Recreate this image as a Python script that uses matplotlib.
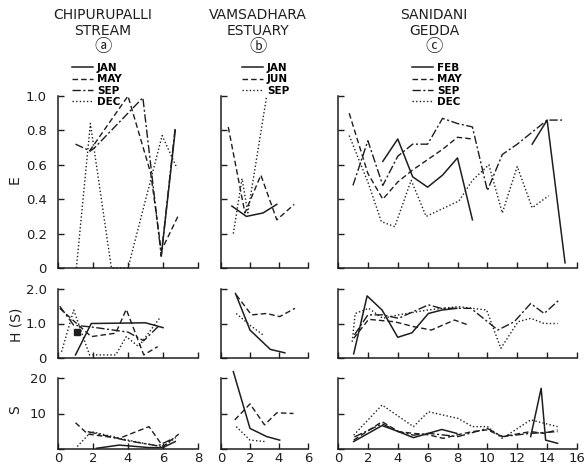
import numpy as np
import matplotlib
matplotlib.use("Agg")
import matplotlib.pyplot as plt

nan = np.nan

# ---------------- data ----------------
# (a) Chipurupalli stream
a_months = ["JAN", "MAY", "SEP", "DEC"]
a_E_jan_x = [5.9, 6.7];                          a_E_jan = [0.07, 0.80]
a_E_may_x = [1.8, 4.0, 5.3, 5.9, 6.9];           a_E_may = [0.68, 1.00, 0.55, 0.10, 0.31]
a_E_sep_x = [1.0, 1.85, 2.1, 4.85, 5.4, 5.9, 6.7]; a_E_sep = [0.72, 0.68, 0.70, 0.99, 0.51, 0.07, 0.82]
a_E_dec_x = [1.05, 1.85, 3.05, 4.0, 5.95, 6.8];  a_E_dec = [0.0, 0.84, 0.0, 0.0, 0.77, 0.58]

a_H_jan_x = [1.0, 1.9, 5.0, 6.0];                a_H_jan = [0.09, 1.00, 1.02, 0.88]
a_H_may_x = [0.1, 1.9, 3.3, 3.9, 4.9, 5.7];      a_H_may = [1.44, 0.62, 0.72, 1.41, 0.09, 0.33]
a_H_sep_x = [0.1, 0.9, 1.9, 4.0, 4.9, 5.8];      a_H_sep = [1.50, 0.95, 0.90, 0.75, 0.50, 0.95]
a_H_dec_x = [0.2, 0.9, 1.8, 3.3, 3.9, 4.6, 5.8]; a_H_dec = [0.18, 1.39, 0.09, 0.09, 0.62, 0.33, 1.15]
a_H_blob_x = [1.1];                              a_H_blob = [0.75]

a_S_jan_x = [2.2, 3.5, 5.2, 6.0, 6.7];           a_S_jan = [0.2, 1.1, 0.4, 0.4, 2.1]
a_S_may_x = [1.0, 1.7, 3.5, 5.2, 6.0, 6.9];      a_S_may = [7.4, 4.2, 3.0, 6.3, 0.7, 4.2]
a_S_sep_x = [1.7, 4.0, 5.7, 6.6];                a_S_sep = [4.9, 2.3, 0.9, 3.0]
a_S_dec_x = [1.1, 1.9, 4.0, 5.0, 6.0, 6.8];      a_S_dec = [0.7, 4.9, 2.5, 1.5, 0.6, 3.5]

# (b) Vamsadhara estuary
b_months = ["JAN", "JUN", "SEP"]
b_E_jan_x = [0.75, 1.75, 2.9, 3.85];             b_E_jan = [0.36, 0.30, 0.32, 0.37]
b_E_jun_x = [0.5, 1.65, 2.75, 3.85, 5.05];       b_E_jun = [0.82, 0.32, 0.54, 0.28, 0.37]
b_E_sep_x = [0.85, 1.45, 1.85, 3.15];            b_E_sep = [0.20, 0.52, 0.32, 1.00]

b_H_jan_x = [1.0, 2.0, 3.4, 4.4];                b_H_jan = [1.87, 0.81, 0.25, 0.15]
b_H_jun_x = [1.05, 2.1, 3.15, 4.05, 5.1];        b_H_jun = [1.83, 1.25, 1.29, 1.20, 1.44]
b_H_sep_x = [1.05, 2.0, 2.9];                    b_H_sep = [1.29, 0.95, 0.67]

b_S_jan_x = [0.85, 2.0, 3.15, 4.05];             b_S_jan = [21.8, 5.8, 3.5, 2.5]
b_S_jun_x = [0.95, 2.0, 3.0, 3.85, 5.0];         b_S_jun = [8.2, 12.7, 6.8, 10.2, 10.0]
b_S_sep_x = [1.05, 2.0, 3.0];                    b_S_sep = [6.3, 2.5, 2.1]

# (c) Sanidani gedda
c_months = ["FEB", "MAY", "SEP", "DEC"]
c_E_feb_x = [3, 4, 5, 6, 7, 8, 9, nan, 13, 14, 15.2]
c_E_feb   = [0.62, 0.75, 0.53, 0.47, 0.54, 0.64, 0.28, nan, 0.72, 0.86, 0.03]
c_E_may_x = [0.75, 2, 3, 4, 5, 6, 7, 8, 9]
c_E_may   = [0.90, 0.55, 0.40, 0.50, 0.57, 0.63, 0.69, 0.76, 0.75]
c_E_sep_x = [1, 2, 3, 4, 5, 6, 7, 8, 9, 10, 11, 12, 13, 14, 15]
c_E_sep   = [0.48, 0.74, 0.48, 0.65, 0.72, 0.72, 0.87, 0.84, 0.82, 0.45, 0.66, 0.72, 0.79, 0.86, 0.86]
c_E_dec_x = [0.75, 2, 2.9, 3.8, 4.9, 5.9, 8.1, 9, 10.1, 11, 12, 13, 14.1]
c_E_dec   = [0.77, 0.50, 0.27, 0.24, 0.51, 0.30, 0.39, 0.51, 0.60, 0.32, 0.59, 0.35, 0.42]

c_H_feb_x = [1.05, 1.95, 2.95, 4.0, 4.95, 6.05, 6.95, 7.95]
c_H_feb   = [0.12, 1.80, 1.39, 0.60, 0.73, 1.29, 1.39, 1.44]
c_H_may_x = [1.05, 2.05, 3.8, 5.05, 6.25, 7.8, 8.7]
c_H_may   = [0.57, 1.12, 1.05, 0.91, 0.81, 1.10, 0.96]
c_H_sep_x = [1.1, 2.0, 3.0, 4.05, 6.05, 6.9, 8.0, 8.9, 10.7, 11.8, 12.9, 13.8, 14.8]
c_H_sep   = [0.67, 1.25, 1.25, 1.15, 1.54, 1.44, 1.44, 1.44, 0.81, 1.05, 1.58, 1.29, 1.68]
c_H_dec_x = [0.95, 1.15, 2.05, 3.0, 4.05, 6.0, 8.05, 9.95, 10.9, 12.05, 12.9, 13.8, 14.7]
c_H_dec   = [0.47, 1.29, 1.44, 1.15, 1.25, 1.39, 1.49, 1.39, 0.28, 1.05, 1.15, 1.00, 1.00]

c_S_feb_x = [1.05, 2.95, 4.05, 5.05, 6.05, 6.95, 7.95, nan, 12.9, 13.6, 13.9, 14.7]
c_S_feb   = [2.1, 6.6, 4.9, 3.2, 4.4, 5.5, 4.4, nan, 3.5, 17.1, 2.5, 1.6]
c_S_may_x = [1.05, 2.95, 4.05, 5.05, 6.05, 7.05, 8.0, 9.0, 10.0, 11.0, 12.9, 13.8, 14.7]
c_S_may   = [2.5, 7.7, 4.9, 4.4, 4.0, 3.0, 4.0, 4.9, 5.4, 3.5, 4.9, 4.4, 5.4]
c_S_sep_x = [1.1, 2.95, 4.05, 5.05, 6.05, 8.05, 10.0, 11.0, 12.9, 14.7]
c_S_sep   = [3.4, 7.1, 4.9, 3.9, 4.4, 3.5, 5.8, 3.5, 4.4, 4.9]
c_S_dec_x = [1.05, 2.95, 5.05, 6.05, 8.05, 9.0, 10.0, 11.0, 12.9, 14.7]
c_S_dec   = [3.9, 12.4, 6.3, 10.5, 8.6, 6.3, 6.3, 3.0, 8.2, 6.3]

titles = ["CHIPURUPALLI\nSTREAM", "VAMSADHARA\nESTUARY", "SANIDANI\nGEDDA"]
panel_marks = ["ⓐ", "ⓑ", "ⓒ"]
x_max = [8, 6, 16]
E_ticks = [0, 0.2, 0.4, 0.6, 0.8, 1.0]
E_ticklabels = ["0", "0.2", "0.4", "0.6", "0.8", "1.0"]
H_ticks = [0, 1.0, 2.0]
H_ticklabels = ["0", "1.0", "2.0"]
S_ticks = [0, 10, 20]
S_ticklabels = ["", "10", "20"]

# ---------------- figure ----------------
plt.rcParams["font.family"] = ["DejaVu Sans", "Noto Sans CJK JP"]
W, Hpx = 584, 468
fig = plt.figure(figsize=(W / 100, Hpx / 100), dpi=100)
fig.patch.set_facecolor("white")

INK = "#1e1e1e"
styles = {
    "solid": dict(linestyle="-", linewidth=1.1),
    "dash": dict(linestyle=(0, (4, 2.2)), linewidth=1.0),
    "dashdot": dict(linestyle=(0, (6, 1.8, 1.5, 1.8)), linewidth=1.0),
    "dot": dict(linestyle=(0, (1, 1.6)), linewidth=1.0),
}

cols_px = [(58, 198), (221, 308), (338, 577)]
rows_px = [(96, 268), (289, 358), (378, 449)]


def make_ax(ci, ri):
    l, r = cols_px[ci]
    t, b = rows_px[ri]
    ax = fig.add_axes([l / W, 1 - b / Hpx, (r - l) / W, (b - t) / Hpx])
    for s in ("top", "right"):
        ax.spines[s].set_visible(False)
    for s in ("left", "bottom"):
        ax.spines[s].set_color(INK)
        ax.spines[s].set_linewidth(1.1)
    ax.tick_params(direction="in", length=4, width=1.0, colors=INK,
                   labelsize=9.5)
    ax.tick_params(axis="y", pad=8)
    ax.set_xlim(0, x_max[ci])
    ax.set_xticks(np.arange(0, x_max[ci] + 1, 2))
    return ax


def draw(ax, x, y, st):
    ax.plot(x, y, color=INK, clip_on=False, **styles[st])


panels = {
    0: [
        [(a_E_jan_x, a_E_jan, "solid"), (a_E_may_x, a_E_may, "dash"),
         (a_E_sep_x, a_E_sep, "dashdot"), (a_E_dec_x, a_E_dec, "dot")],
        [(a_H_jan_x, a_H_jan, "solid"), (a_H_may_x, a_H_may, "dash"),
         (a_H_sep_x, a_H_sep, "dashdot"), (a_H_dec_x, a_H_dec, "dot")],
        [(a_S_jan_x, a_S_jan, "solid"), (a_S_may_x, a_S_may, "dash"),
         (a_S_sep_x, a_S_sep, "dashdot"), (a_S_dec_x, a_S_dec, "dot")],
    ],
    1: [
        [(b_E_jan_x, b_E_jan, "solid"), (b_E_jun_x, b_E_jun, "dash"),
         (b_E_sep_x, b_E_sep, "dot")],
        [(b_H_jan_x, b_H_jan, "solid"), (b_H_jun_x, b_H_jun, "dash"),
         (b_H_sep_x, b_H_sep, "dot")],
        [(b_S_jan_x, b_S_jan, "solid"), (b_S_jun_x, b_S_jun, "dash"),
         (b_S_sep_x, b_S_sep, "dot")],
    ],
    2: [
        [(c_E_feb_x, c_E_feb, "solid"), (c_E_may_x, c_E_may, "dash"),
         (c_E_sep_x, c_E_sep, "dashdot"), (c_E_dec_x, c_E_dec, "dot")],
        [(c_H_feb_x, c_H_feb, "solid"), (c_H_may_x, c_H_may, "dash"),
         (c_H_sep_x, c_H_sep, "dashdot"), (c_H_dec_x, c_H_dec, "dot")],
        [(c_S_feb_x, c_S_feb, "solid"), (c_S_may_x, c_S_may, "dash"),
         (c_S_sep_x, c_S_sep, "dashdot"), (c_S_dec_x, c_S_dec, "dot")],
    ],
}
month_lists = [a_months, b_months, c_months]
legend_anchor_px = [(72, 63), (242, 63), (412, 63)]
title_center_px = [103, 258, 434]

for ci in range(3):
    axes_col = []
    for ri in range(3):
        ax = make_ax(ci, ri)
        for x, y, st in panels[ci][ri]:
            draw(ax, x, y, st)
        if ri == 0:
            ax.set_ylim(0, 1.0)
            ax.set_yticks(E_ticks)
            ax.set_yticklabels(E_ticklabels if ci == 0 else [])
        elif ri == 1:
            ax.set_ylim(0, 2.0)
            ax.set_yticks(H_ticks)
            ax.set_yticklabels(H_ticklabels if ci == 0 else [])
        else:
            ax.set_ylim(0, 20)
            ax.set_yticks(S_ticks)
            ax.set_yticklabels(S_ticklabels if ci == 0 else [])
        if ri < 2:
            ax.set_xticklabels([])
        else:
            ax.tick_params(axis="x", labelsize=9.5, pad=2)
        axes_col.append(ax)

    if ci == 0:
        axes_col[1].plot(a_H_blob_x, a_H_blob, marker="s", markersize=5,
                         color=INK, linestyle="none")

    # legend from the top-row lines
    handles = axes_col[0].get_lines()
    lx, ly = legend_anchor_px[ci]
    fig.legend(handles, month_lists[ci], loc="upper left",
               bbox_to_anchor=(lx / W, 1 - ly / Hpx), frameon=False,
               fontsize=7.5, handlelength=2.0, handletextpad=0.4,
               labelspacing=0.12, borderpad=0, borderaxespad=0,
               prop=dict(size=7.5, weight="semibold"))

    tx = title_center_px[ci] / W
    fig.text(tx, 1 - 8 / Hpx, titles[ci], ha="center", va="top",
             fontsize=10, color=INK, linespacing=1.15)
    fig.text(tx, 1 - 38 / Hpx, panel_marks[ci], ha="center", va="top",
             fontsize=12.5, color=INK,
             family=["Noto Sans CJK JP", "DejaVu Sans"])

fig.text(15 / W, 1 - 180 / Hpx, "E", rotation=90, ha="center", va="center",
         fontsize=10, color=INK)
fig.text(16 / W, 1 - 325 / Hpx, "H (S)", rotation=90, ha="center", va="center",
         fontsize=10, color=INK)
fig.text(15 / W, 1 - 410 / Hpx, "S", rotation=90, ha="center", va="center",
         fontsize=10, color=INK)

fig.savefig("out.png", dpi=100, facecolor="white")
